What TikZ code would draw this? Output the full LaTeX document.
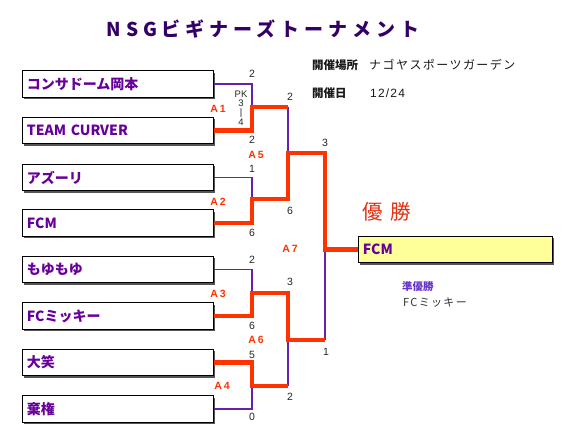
\documentclass[tikz,border=0pt]{standalone}
\usepackage{fontspec}
\setmainfont{Liberation Sans}
\newfontfamily\cjk{Noto Sans CJK JP}
\newfontfamily\titlefont[LetterSpace=26]{Noto Sans CJK JP}
\newfontfamily\spacedcjk[LetterSpace=12]{Noto Sans CJK JP}
\newfontfamily\lblfont[LetterSpace=18]{Liberation Sans}
\newfontfamily\numfont[LetterSpace=10]{Liberation Sans}
\usetikzlibrary{shadows}
\definecolor{tpurple}{HTML}{660099}
\definecolor{titlepurple}{HTML}{330066}
\definecolor{lpurple}{HTML}{6622AA}
\definecolor{wred}{HTML}{FF3300}
\definecolor{champred}{HTML}{E03010}
\definecolor{shadowgray}{HTML}{555555}
\definecolor{champyellow}{HTML}{FFFF99}
\definecolor{subpurple}{HTML}{6633CC}
\begin{document}
\begin{tikzpicture}[x=1pt,y=-1pt,
 team/.style={draw=black, line width=0.8pt, fill=white, minimum width=191pt, minimum height=26.5pt,
   anchor=west, inner xsep=4pt, text width=182pt, align=left,
   font=\cjk\bfseries\fontsize{14}{14}\selectfont, text=tpurple,
   drop shadow={shadow xshift=2pt, shadow yshift=-2pt, fill=shadowgray, opacity=1}},
 champbox/.style={team, fill=champyellow, minimum width=194pt, text width=185pt},
 loser/.style={draw=lpurple, line width=1.7pt},
 winner/.style={draw=wred, line width=4.5pt, line join=miter},
 score/.style={font=\fontsize{10.5}{9.3}\selectfont, text=black!85, inner sep=0pt, align=center},
 pkstack/.style={score, font=\fontsize{9.5}{9.3}\selectfont},
 mlabel/.style={font=\lblfont\bfseries\fontsize{10.5}{10}\selectfont, text=wred, inner sep=0pt},
 info/.style={anchor=west, inner sep=0pt, text=black!90}
]
\useasboundingbox (0,0) rectangle (570,429);

% title
\node[inner sep=0pt, text=titlepurple, font=\titlefont\bfseries\fontsize{19}{19}\selectfont] (title) at (263,29) {NSGビギナーズトーナメント};

% info
\node[info, font=\cjk\bfseries\fontsize{11.5}{12}\selectfont] (venuelbl) at (312,65) {開催場所};
\node[info, font=\spacedcjk\fontsize{12}{12}\selectfont] (venue) at (369,65) {ナゴヤスポーツガーデン};
\node[info, font=\cjk\bfseries\fontsize{11.5}{12}\selectfont] (datelbl) at (312,93) {開催日};
\node[info, font=\numfont\fontsize{12}{12}\selectfont] (date) at (370,93) {12/24};

% teams
\node[team] (t1) at (22,84) {コンサドーム岡本};
\node[team] (t2) at (22,130.5) {TEAM CURVER};
\node[team] (t3) at (22,177.5) {アズーリ};
\node[team] (t4) at (22,223) {FCM};
\node[team] (t5) at (22,269.5) {もゆもゆ};
\node[team] (t6) at (22,316) {FCミッキー};
\node[team] (t7) at (22,362.5) {大笑};
\node[team] (t8) at (22,409) {棄権};

% champion
\node[champbox] (champ) at (358,249.5) {FCM};
\node[inner sep=0pt, anchor=west, text=champred, font=\cjk\fontsize{20.5}{21}\selectfont] (yusho) at (362,212) {優\hspace{8pt}勝};
\node[info, text=subpurple, font=\cjk\bfseries\fontsize{10.5}{11}\selectfont] (runnerlbl) at (402,287) {準優勝};
\node[info, text=black!80, font=\spacedcjk\fontsize{11}{11}\selectfont] (runner) at (403,303) {FCミッキー};

% joints
\coordinate (m1) at (252,107);
\coordinate (m2) at (252,199);
\coordinate (m3) at (252,293);
\coordinate (m4) at (252,386);
\coordinate (w1) at (288,107);
\coordinate (w2) at (288,199);
\coordinate (w3) at (288,293);
\coordinate (w4) at (288,386);
\coordinate (m5) at (288,153);
\coordinate (m6) at (288,340);
\coordinate (w5) at (325,153);
\coordinate (w6) at (325,340);
\coordinate (m7) at (325,249.5);

% losing lines
\draw[loser] (t1.east) -| (m1);
\draw[loser] (t3.east) -| (m2);
\draw[loser] (t5.east) -| (m3);
\draw[loser] (t8.east) -| (m4);
\draw[loser] (w1) -- (m5);
\draw[loser] (w4) -- (m6);
\draw[loser] (w6) -- (m7);

% winning lines
\draw[winner] (t2.east) -| (m1) -- (w1);
\draw[winner] (t4.east) -| (m2) -- (w2) -- (m5) -- (w5) -- (m7) -- (champ.west);
\draw[winner] (t6.east) -| (m3) -- (w3) -- (m6) -- (w6);
\draw[winner] (t7.east) -| (m4) -- (w4);

% scores
\node[score] (s1a) at (252,74) {2};
\node[pkstack] (s1pk) at (241,108) {PK\\3\\|\\4};
\node[score] (s1b) at (252,140) {2};
\node[score] (s5a) at (290,97) {2};
\node[score] (s2a) at (252,169) {1};
\node[score] (s2b) at (252,233) {6};
\node[score] (s5b) at (290,211) {6};
\node[score] (s3a) at (252,260) {2};
\node[score] (s6a) at (290,282) {3};
\node[score] (s3b) at (252,326) {6};
\node[score] (s4a) at (252,355) {5};
\node[score] (s6b) at (290,397) {2};
\node[score] (s4b) at (252,417) {0};
\node[score] (s7a) at (325,143) {3};
\node[score] (s7b) at (326,352) {1};

% match labels
\node[mlabel] (a1) at (218,109) {A1};
\node[mlabel] (a5) at (256,155) {A5};
\node[mlabel] (a2) at (218,202) {A2};
\node[mlabel] (a7) at (290,249) {A7};
\node[mlabel] (a3) at (218,294) {A3};
\node[mlabel] (a6) at (256,340) {A6};
\node[mlabel] (a4) at (222,386) {A4};
\end{tikzpicture}
\end{document}
